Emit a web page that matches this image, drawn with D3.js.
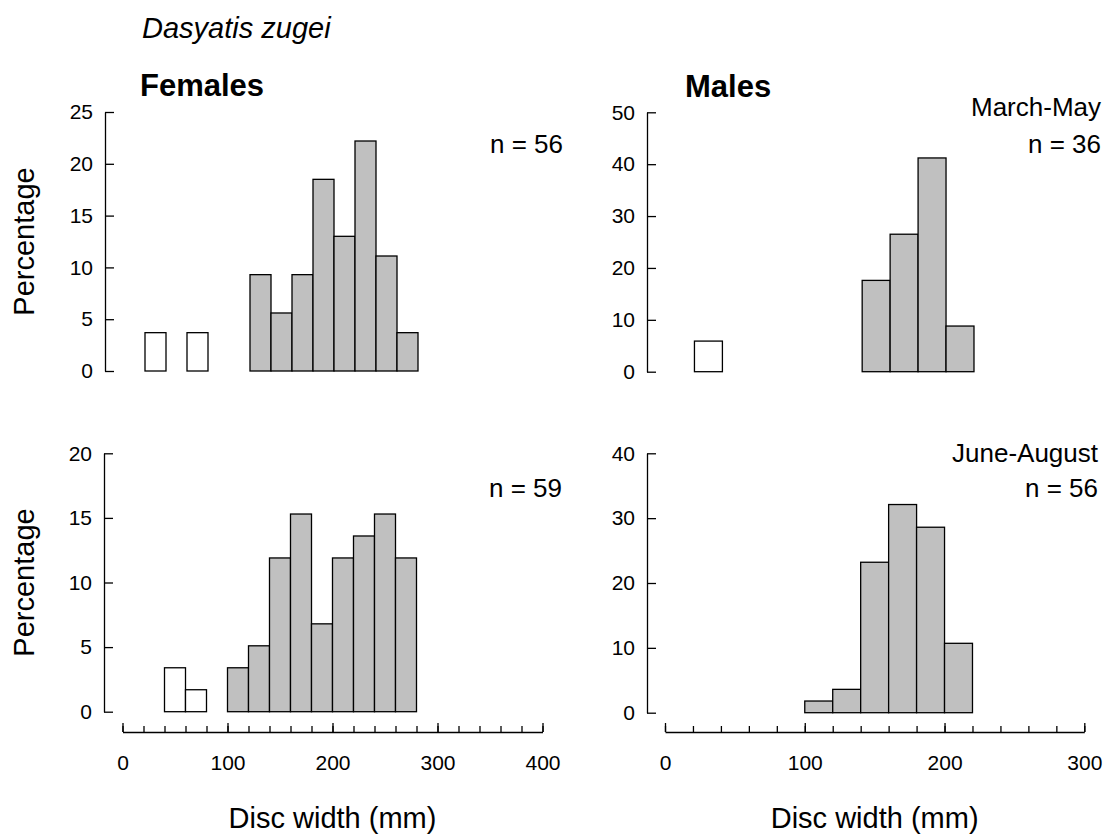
<!DOCTYPE html>
<html>
<head>
<meta charset="utf-8">
<script src="https://cdn.jsdelivr.net/npm/d3@7"></script>
<style>
  body { margin: 0; background: #fff; }
  svg { font-family: "Liberation Sans", Arial, sans-serif; }
  .axis path, .axis line { stroke: #000; stroke-width: 1.3; }
  .axis text { font-size: 21px; fill: #000; font-family: "Liberation Sans", Arial, sans-serif; }
</style>
</head>
<body>
<svg id="chart" width="1114" height="840"></svg>
<script>
const binWidth = 20;

const femMarStart = [20, 60, 120, 140, 160, 180, 200, 220, 240, 260];
const femMarPct   = [3.7, 3.7, 9.3, 5.6, 9.3, 18.5, 13.0, 22.2, 11.1, 3.7];
const femMarOpen  = 2;

const malMarStart = [20, 140, 160, 180, 200];
const malMarPct   = [5.9, 17.6, 26.5, 41.2, 8.8];
const malMarOpen  = 1;

const femJunStart = [40, 60, 100, 120, 140, 160, 180, 200, 220, 240, 260];
const femJunPct   = [3.4, 1.7, 3.4, 5.1, 11.9, 15.3, 6.8, 11.9, 13.6, 15.3, 11.9];
const femJunOpen  = 2;

const malJunStart = [100, 120, 140, 160, 180, 200];
const malJunPct   = [1.8, 3.6, 23.2, 32.1, 28.6, 10.7];
const malJunOpen  = 0;

const femTicksY = [0, 5, 10, 15, 20, 25];
const malMarTicksY = [0, 10, 20, 30, 40, 50];
const femJunTicksY = [0, 5, 10, 15, 20];
const malJunTicksY = [0, 10, 20, 30, 40];
const femTicksX = [0, 100, 200, 300, 400];
const malTicksX = [0, 100, 200, 300];

const svg = d3.select('#chart');

function panel(o){
  const x = d3.scaleLinear().domain([0, o.xMax]).range(o.xr);
  const y = d3.scaleLinear().domain([0, o.yMax]).range(o.yr);
  const g = svg.append('g');

  const rows = o.start.map((s, i) => ({s, p: o.pct[i], open: i < o.open}));
  g.selectAll('rect.bar').data(rows).join('rect')
    .attr('class', 'bar')
    .attr('x', d => x(d.s))
    .attr('width', d => x(d.s + binWidth) - x(d.s))
    .attr('y', d => y(d.p))
    .attr('height', d => y(0) - y(d.p))
    .attr('fill', d => d.open ? '#fff' : '#c0c0c0')
    .attr('stroke', '#000')
    .attr('stroke-width', 1.3);

  g.append('g').attr('class', 'axis')
    .attr('transform', `translate(${o.axisX},0)`)
    .call(d3.axisLeft(y).tickValues(o.ticksY).tickSize(-9).tickSizeOuter(0).tickPadding(12));

  if (o.showX) {
    const ax = g.append('g').attr('class', 'axis')
      .attr('transform', `translate(0,${o.xAxisY})`);
    ax.call(d3.axisBottom(x).tickValues(d3.range(0, o.xMax + 1, 20)).tickSize(-6).tickSizeOuter(0).tickFormat(''));
    ax.append('g')
      .call(d3.axisBottom(x).tickValues(o.ticksX).tickSize(-9).tickSizeOuter(0).tickPadding(23))
      .call(s => s.select('.domain').remove());

    svg.append('text')
      .attr('x', (o.xr[0] + o.xr[1]) / 2).attr('y', 828)
      .attr('text-anchor', 'middle').style('font-size', '29px')
      .text('Disc width (mm)');
  }

  if (o.ylab) {
    const cy = (o.yr[0] + o.yr[1]) / 2;
    svg.append('text')
      .attr('transform', `translate(34,${cy}) rotate(-90)`)
      .attr('text-anchor', 'middle').style('font-size', '29px')
      .text('Percentage');
  }

  o.notes.forEach(n => {
    svg.append('text')
      .attr('x', n.x).attr('y', n.y)
      .attr('text-anchor', 'end').style('font-size', '26px')
      .text(n.t);
  });
}

panel({start: femMarStart, pct: femMarPct, open: femMarOpen,
  xMax: 400, xr: [124, 544], yMax: 25, yr: [371, 112], ticksY: femTicksY,
  axisX: 105, ylab: true, notes: [{t: 'n = 56', x: 563, y: 153}]});

panel({start: malMarStart, pct: malMarPct, open: malMarOpen,
  xMax: 300, xr: [666.5, 1085.8], yMax: 50, yr: [371.7, 112.3], ticksY: malMarTicksY,
  axisX: 647, notes: [{t: 'March-May', x: 1101, y: 115.5}, {t: 'n = 36', x: 1101, y: 152.5}]});

panel({start: femJunStart, pct: femJunPct, open: femJunOpen,
  xMax: 400, xr: [122.5, 542.5], yMax: 20, yr: [711.7, 453.3], ticksY: femJunTicksY,
  axisX: 104, ylab: true, showX: true, xAxisY: 732, ticksX: femTicksX,
  notes: [{t: 'n = 59', x: 562, y: 496.5}]});

panel({start: malJunStart, pct: malJunPct, open: malJunOpen,
  xMax: 300, xr: [665, 1084.3], yMax: 40, yr: [712.7, 453.3], ticksY: malJunTicksY,
  axisX: 647, showX: true, xAxisY: 732, ticksX: malTicksX,
  notes: [{t: 'June-August', x: 1098, y: 461.5}, {t: 'n = 56', x: 1098, y: 496.5}]});

svg.append('text').attr('x', 142).attr('y', 38)
  .style('font-size', '29px').style('font-style', 'italic')
  .text('Dasyatis zugei');
svg.append('text').attr('x', 140).attr('y', 95.5)
  .style('font-size', '31px').style('font-weight', 'bold')
  .text('Females');
svg.append('text').attr('x', 685).attr('y', 96.5)
  .style('font-size', '31px').style('font-weight', 'bold')
  .text('Males');
</script>
</body>
</html>
